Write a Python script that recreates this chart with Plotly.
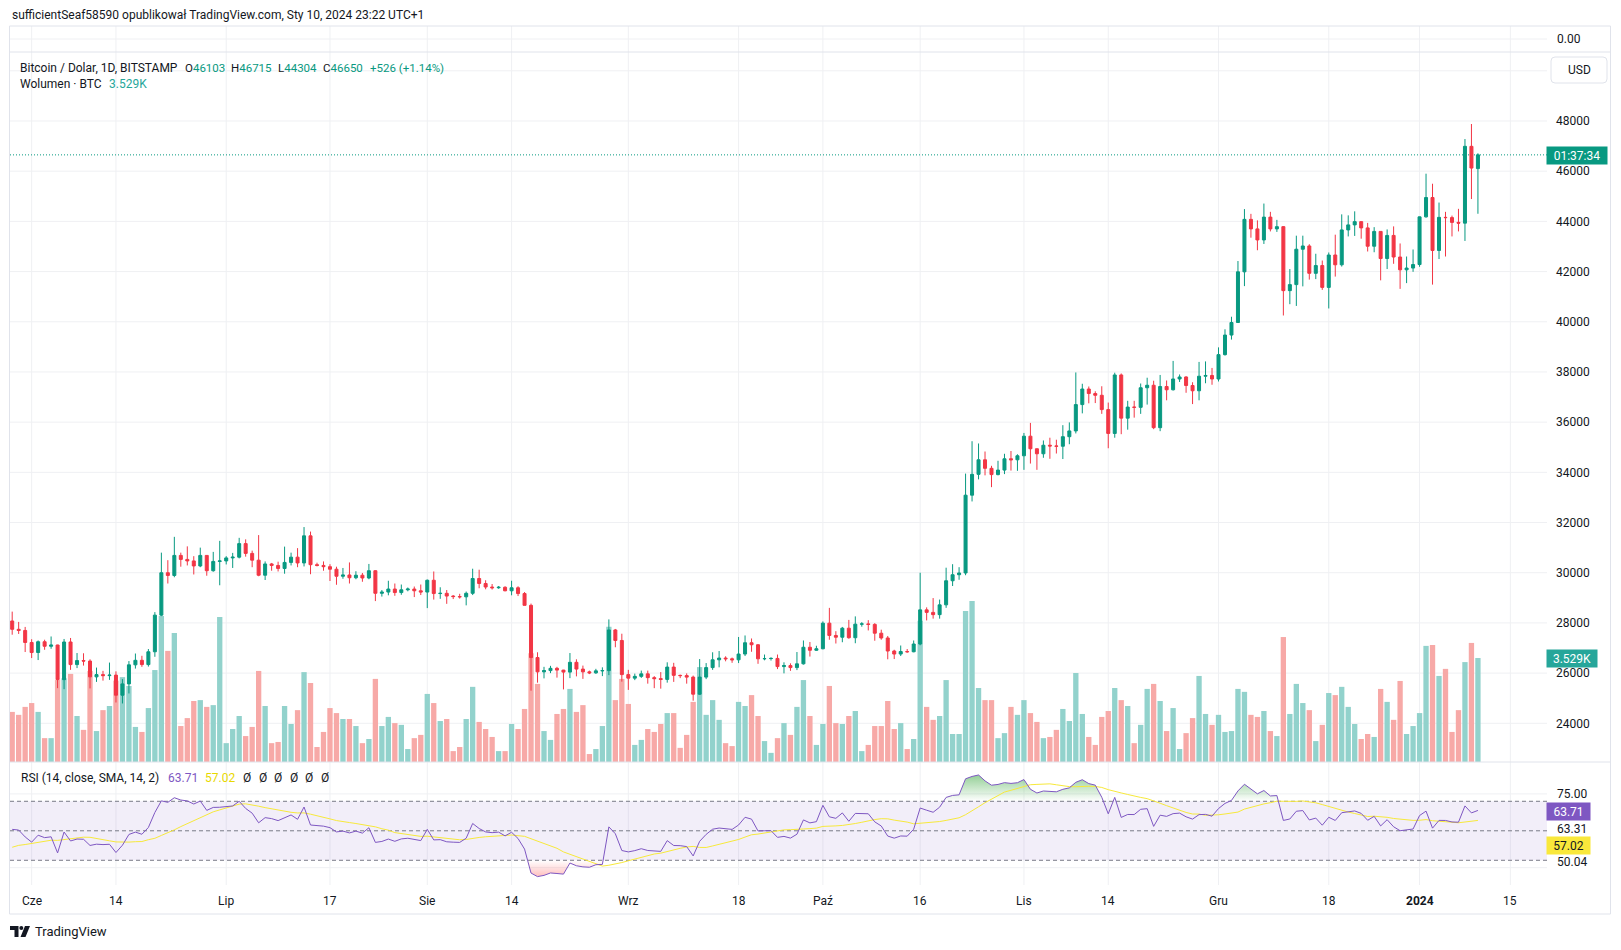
import plotly.graph_objects as go
import pandas as pd
import numpy as np

W, H = 1621, 950
FONT = "Roboto, 'Liberation Sans', sans-serif"
TXT = "#131722"
UP, DOWN = "#089981", "#F23645"
VOL_UP, VOL_DOWN = "#92d2cc", "#f7a9a7"
GRID = "#eff0f3"
BORDER = "#e0e3eb"

# ---------------- data (BITSTAMP BTC/USD, 1D) ----------------
start_date = "2023-05-29"

opens = [
    28077, 27745, 27700,
    27220, 26820, 27250, 27070, 27120, 25740, 27240, 26340, 26500, 26480, 25850, 25940, 25900, 25920, 25120,
    25570, 26330, 26510, 26340, 26850, 28310, 30000, 29890, 30690, 30530, 30470, 30270, 30690, 30080, 30450,
    30470, 30590, 30620, 31160, 30770, 30500, 29900, 30350, 30290, 30170, 30410, 30620, 30390, 31470, 30320,
    30290, 30240, 30140, 29860, 29910, 29800, 29900, 29790, 30080, 29180, 29230, 29350, 29210, 29320, 29350, 29280,
    29230, 29700, 29170, 29180, 29070, 29050, 29040, 29180, 29770, 29570, 29430, 29400, 29420, 29280, 29400,
    29170, 28700, 26620, 26050, 26100, 26190, 26120, 26040, 26430, 26160, 26050, 26010, 26090, 26100, 27720, 27300,
    25940, 25800, 25870, 25970, 25820, 25780, 25750, 26240, 25910, 25900, 25840, 25160, 25840, 26220, 26530,
    26600, 26570, 26530, 26760, 27210, 27130, 26570, 26580, 26585, 26260, 26300, 26220, 26370, 27030, 26910,
    26970, 27990, 27500, 27430, 27790, 27410, 27950, 27960, 27940, 27590, 27400, 26880, 26760, 26860, 26850,
    27160, 28520, 28420, 28330, 28720, 29680, 29920, 29990, 33090, 33920, 34500, 34160, 33910, 34090, 34540, 34500,
    34660, 35440, 34940, 34740, 35080, 35050, 35040, 35420, 35650, 36700, 37320, 37140, 37070, 36500, 35550,
    37880, 36160, 36600, 36590, 37370, 37470, 35780, 37420, 37290, 37720, 37800, 37460, 37250, 37830, 37860,
    37720, 38690, 39470, 39970, 41990, 44080, 43700, 43260, 44170, 43700, 43790, 41240, 41480, 42890, 43020,
    41930, 42240, 41370, 42660, 42270, 43660, 43860, 43990, 43740, 43010, 43600, 42520, 43440, 42580, 42070, 42140,
    42280, 44180, 44950, 42840, 44160, 44150, 43960, 43930, 46990, 46103,
]
highs = [
    28450, 28040, 27840,
    27350, 27300, 27330, 27460, 27130, 27360, 27400, 26800, 26790, 26550, 26220, 26090, 26420, 26070, 25760,
    26480, 26780, 26690, 26960, 28430, 30800, 30500, 31430, 30800, 31050, 30660, 31000, 30700, 30830, 31270,
    30660, 30790, 31390, 31330, 30880, 31500, 30450, 30390, 30440, 31040, 30800, 30980, 31820, 31640, 30400,
    30450, 30340, 30240, 30190, 30410, 30060, 29990, 30350, 30100, 29310, 29680, 29570, 29530, 29410, 29450, 29530,
    29730, 30050, 29420, 29310, 29110, 29160, 29250, 30160, 30120, 29700, 29550, 29470, 29460, 29680, 29460,
    29230, 28770, 26830, 26250, 26290, 26250, 26130, 26800, 26550, 26300, 26100, 26170, 26230, 28140, 27760, 27570,
    26130, 25980, 26100, 26100, 25880, 26040, 26430, 26410, 25940, 25990, 25900, 26560, 26400, 26830, 26880,
    26670, 26620, 27440, 27500, 27380, 27160, 26740, 26630, 26740, 26430, 26390, 26840, 27300, 27240, 27090,
    28060, 28600, 27670, 27840, 28120, 28260, 28030, 28110, 27990, 27730, 27480, 26930, 27100, 26960, 27300,
    30000, 28620, 28990, 28930, 30200, 30340, 30220, 33950, 35240, 35150, 34830, 34260, 34460, 34740, 34850, 34720,
    35570, 35970, 34950, 35270, 35380, 35300, 35880, 35990, 37980, 37530, 37420, 37230, 37430, 36780, 37970,
    37940, 36850, 36850, 37540, 37770, 37650, 37880, 37660, 38440, 37900, 37830, 37590, 38400, 38420, 38160,
    38980, 39700, 40200, 42420, 44490, 44300, 44040, 44710, 44380, 44060, 43810, 42100, 43430, 43430, 43090,
    42710, 42440, 42760, 43470, 44280, 44240, 44400, 44000, 43940, 43770, 43600, 43680, 43800, 43120, 42600, 42880,
    44190, 45900, 45500, 44750, 44380, 44230, 44500, 47280, 47880, 46715,
]
lows = [
    27530, 27560, 26840,
    26600, 26520, 26930, 26970, 25400, 25360, 26130, 26200, 26300, 25390, 25650, 25700, 25730, 24830, 24790,
    25190, 26180, 26250, 26260, 26650, 28270, 29570, 29820, 30240, 30290, 29930, 30220, 29880, 30040, 29500,
    30330, 30190, 30570, 30640, 30220, 29860, 29710, 30080, 30050, 29960, 30290, 30220, 30250, 29940, 30250,
    30080, 29670, 29520, 29760, 29570, 29740, 29640, 29740, 28870, 29050, 29100, 29080, 29120, 29260, 29030, 29110,
    28590, 28930, 28960, 28760, 28950, 28970, 28700, 29110, 29380, 29340, 29330, 29360, 29260, 29100, 29070,
    28700, 25300, 25620, 25790, 26000, 25820, 25350, 25800, 25870, 25770, 25960, 25970, 25880, 25920, 27030, 25660,
    25330, 25720, 25810, 25580, 25400, 25380, 25620, 25650, 25800, 25580, 24900, 25130, 25760, 26130, 26230,
    26470, 26410, 26400, 26680, 26850, 26370, 26510, 26500, 26160, 25990, 26090, 26120, 26340, 26660, 26890,
    26950, 27330, 27180, 27230, 27370, 27190, 27850, 27700, 27290, 27330, 26550, 26560, 26680, 26810, 26830,
    27110, 28100, 28170, 28170, 28600, 29470, 29720, 29900, 32840, 33720, 33880, 33410, 33880, 33930, 34070, 34060,
    34100, 34350, 34100, 34580, 34540, 34750, 34530, 35120, 35550, 36350, 36750, 36760, 36330, 34960, 35380,
    35520, 35700, 36180, 36330, 36700, 35720, 35640, 36870, 37260, 37600, 37170, 36720, 36870, 37550, 37490,
    37620, 38650, 39290, 39970, 41420, 43350, 42850, 43100, 43600, 43580, 40250, 40700, 40630, 41410, 41680,
    41700, 41270, 40530, 41800, 42200, 43400, 43420, 43310, 42800, 42770, 41650, 42100, 42310, 41310, 41540, 41990,
    42190, 44150, 41480, 42500, 42600, 43400, 43600, 43220, 44890, 44304,
]
closes = [
    27745, 27700, 27220,
    26820, 27250, 27070, 27120, 25740, 27240, 26340, 26500, 26480, 25850, 25940, 25900, 25920, 25120, 25570,
    26330, 26510, 26340, 26850, 28310, 30000, 29890, 30690, 30530, 30470, 30270, 30690, 30080, 30450, 30470,
    30590, 30620, 31160, 30770, 30500, 29900, 30350, 30290, 30170, 30410, 30620, 30390, 31470, 30320, 30290,
    30240, 30140, 29860, 29910, 29800, 29900, 29790, 30080, 29180, 29230, 29350, 29210, 29320, 29350, 29280, 29230,
    29700, 29170, 29180, 29070, 29050, 29040, 29180, 29770, 29570, 29430, 29400, 29420, 29280, 29400, 29170,
    28700, 26620, 26050, 26100, 26190, 26120, 26040, 26430, 26160, 26050, 26010, 26090, 26100, 27720, 27300, 25940,
    25800, 25870, 25970, 25820, 25780, 25750, 26240, 25910, 25900, 25840, 25160, 25840, 26220, 26530, 26600,
    26570, 26530, 26760, 27210, 27130, 26570, 26580, 26585, 26260, 26300, 26220, 26370, 27030, 26910, 26970,
    27990, 27500, 27430, 27790, 27410, 27950, 27960, 27940, 27590, 27400, 26880, 26760, 26860, 26850, 27160,
    28520, 28420, 28330, 28720, 29680, 29920, 29990, 33090, 33920, 34500, 34160, 33910, 34090, 34540, 34500, 34660,
    35440, 34940, 34740, 35080, 35050, 35040, 35420, 35650, 36700, 37320, 37140, 37070, 36500, 35550, 37880,
    36160, 36600, 36590, 37370, 37470, 35780, 37420, 37290, 37720, 37800, 37460, 37250, 37830, 37860, 37720,
    38690, 39470, 39970, 41990, 44080, 43700, 43260, 44170, 43700, 43790, 41240, 41480, 42890, 43020, 41930,
    42240, 41370, 42660, 42270, 43660, 43860, 43990, 43740, 43010, 43600, 42520, 43440, 42580, 42070, 42140, 42280,
    44180, 44950, 42840, 44160, 44150, 43960, 43930, 46990, 46124, 46650,
]
# volume in thousands of BTC
volume_k = [
    1.70, 1.60, 1.87,
    2.00, 1.70, 0.81, 0.81, 2.78, 2.84, 2.99, 1.56, 1.09, 3.09, 1.05, 1.76, 1.90, 2.76, 2.88, 2.58, 1.19, 1.02,
    1.83, 3.12, 4.95, 3.77, 4.38, 1.22, 1.49, 2.07, 2.10, 1.87, 1.93, 4.92,
    0.64, 1.12, 1.56, 0.88, 1.19, 3.09, 1.90, 0.64, 0.68, 1.90, 1.29, 1.76, 3.05, 2.68, 0.51, 1.02, 1.83, 1.66,
    1.46, 1.46, 1.22, 0.64, 0.78, 2.82, 1.22, 1.53, 1.32, 1.26, 0.44, 0.81, 0.92,
    2.31, 2.00, 1.39, 1.46, 0.37, 0.51, 1.46, 2.55, 1.36, 1.12, 0.85, 0.37, 0.37, 1.29, 1.12, 1.80, 3.69, 2.65,
    1.05, 0.75, 1.63, 1.80, 2.48, 1.70, 1.93, 0.27, 0.44, 1.22, 4.59, 2.10, 2.82,
    1.97, 0.58, 0.75, 1.12, 1.02, 1.29, 1.66, 1.66, 0.48, 0.92, 2.04, 3.22, 1.60, 2.10, 1.43, 0.64, 0.54, 2.04,
    1.90, 2.27, 1.56, 0.71, 0.31, 0.81, 1.32, 0.92, 1.87, 2.78, 1.56, 0.58,
    1.29, 2.58, 1.32, 1.29, 1.56, 1.73, 0.37, 0.58, 1.22, 1.22, 2.07, 1.12, 1.32, 0.44, 0.78, 4.79, 1.87, 1.43,
    1.56, 2.78, 0.95, 0.95, 5.12, 5.46, 2.51, 2.10, 2.10, 0.81, 0.98, 1.87, 1.60,
    2.10, 1.66, 1.36, 0.81, 0.85, 1.09, 1.80, 1.39, 3.02, 1.63, 0.85, 0.58, 1.53, 1.73, 2.51, 2.10, 1.90, 0.64,
    1.26, 2.48, 2.65, 2.07, 1.05, 1.83, 0.44, 0.98, 1.49, 2.92, 1.63, 1.26,
    1.60, 1.02, 1.05, 2.48, 2.38, 1.60, 1.53, 1.73, 1.05, 0.88, 4.24, 1.63, 2.65, 2.00, 1.76, 0.71, 1.26, 2.34,
    2.27, 2.55, 1.87, 1.29, 0.78, 0.95, 0.85, 2.48, 2.04, 1.43, 2.75, 0.95, 1.22,
    1.66, 3.94, 3.97, 2.92, 3.16, 1.02, 1.76, 3.39, 4.04, 3.529,
]
# closes before the visible window (Apr 28 - May 28, 2023), used only to warm up the RSI
warmup_closes = [
    29330, 29240, 29250, 28070, 28670, 29030, 28840, 29530, 28900, 28430, 27680, 27630, 27620, 26990, 26800,
    26780, 26920, 27170, 27030, 27400, 26830, 26890, 27110, 26750, 26850, 27220, 26330, 26480, 26720, 26860, 28080,
]
# indicator read-outs as printed on the chart
rsi_readout = 63.71
rsi_ma_readout = 57.02

tick_dates = ["2023-06-01", "2023-06-14", "2023-07-01", "2023-07-17", "2023-08-01", "2023-08-14",
              "2023-09-01", "2023-09-18", "2023-10-01", "2023-10-16", "2023-11-01", "2023-11-14",
              "2023-12-01", "2023-12-18", "2024-01-01", "2024-01-15"]
tick_labels = ["Cze", "14", "Lip", "17", "Sie", "14", "Wrz", "18", "Paź", "16", "Lis", "14",
               "Gru", "18", "<b>2024</b>", "15"]
price_ticks = list(range(24000, 48001, 2000))

n = len(closes)
assert len(opens) == len(highs) == len(lows) == len(volume_k) == n
dates = pd.date_range(start_date, periods=n, freq="D")

# ---------------- RSI (14, RMA) + SMA(14) of RSI ----------------
allc = np.array(warmup_closes + closes, dtype=float)
d = np.diff(allc)
g = np.maximum(d, 0)
l = np.maximum(-d, 0)
ag = np.full(len(allc), np.nan)
al = np.full(len(allc), np.nan)
ag[14] = g[:14].mean()
al[14] = l[:14].mean()
for k in range(15, len(allc)):
    ag[k] = (ag[k - 1] * 13 + g[k - 1]) / 14
    al[k] = (al[k - 1] * 13 + l[k - 1]) / 14
rsi_all = 100 - 100 / (1 + ag / al)
rsi_ma_all = pd.Series(rsi_all).rolling(14).mean().to_numpy()
rsi = rsi_all[-n:]
rsi_ma = rsi_ma_all[-n:]

# ---------------- geometry helpers ----------------
def fx(px):
    return px / W


def fy(py):
    return 1 - py / H


PL, PR = 10, 1547
MAIN_T, MAIN_B = 52, 762
RSI_T, RSI_B = 762, 885
x_range = [pd.Timestamp(start_date) - pd.Timedelta(hours=8.1), pd.Timestamp("2024-01-20 15:36")]
price_range = [22458, 50749]
vol_range = [0, 24.09]
rsi_range = [13.25, 96.64]

fig = go.Figure()

# volume (base axis, drawn under candles)
vcols = [VOL_UP if c >= o else VOL_DOWN for o, c in zip(opens, closes)]
fig.add_trace(go.Bar(x=dates, y=volume_k, marker=dict(color=vcols, line=dict(width=0)),
                     width=0.82 * 86400000, xaxis="x", yaxis="y", hoverinfo="skip"))

# candles
fig.add_trace(go.Candlestick(
    x=dates, open=opens, high=highs, low=lows, close=closes, xaxis="x", yaxis="y2",
    increasing=dict(line=dict(color=UP, width=1), fillcolor=UP),
    decreasing=dict(line=dict(color=DOWN, width=1), fillcolor=DOWN),
    whiskerwidth=0, hoverinfo="skip"))

# RSI fills (overbought / oversold gradients)
xs_ms = np.array([t.value / 1e6 for t in dates])


def clipped(level, above):
    ox, oy = [], []
    for k in range(n):
        if k > 0:
            v0, v1 = rsi[k - 1], rsi[k]
            if (v0 - level) * (v1 - level) < 0:
                t = (level - v0) / (v1 - v0)
                ox.append(xs_ms[k - 1] + t * (xs_ms[k] - xs_ms[k - 1]))
                oy.append(level)
        ox.append(xs_ms[k])
        oy.append(max(rsi[k], level) if above else min(rsi[k], level))
    return pd.to_datetime(np.array(ox), unit="ms"), oy


for level, above, cs, st, sp in [
    (70, True, [[0, "rgba(76,175,80,0)"], [1, "rgba(76,175,80,1)"]], 70, 100),
    (30, False, [[0, "rgba(255,82,82,1)"], [1, "rgba(255,82,82,0)"]], 0, 30),
]:
    cx, cy = clipped(level, above)
    fig.add_trace(go.Scatter(x=cx, y=[level] * len(cy), mode="lines", line=dict(width=0),
                             xaxis="x", yaxis="y3", hoverinfo="skip", showlegend=False))
    fig.add_trace(go.Scatter(x=cx, y=cy, mode="lines", line=dict(width=0), fill="tonexty",
                             fillgradient=dict(type="vertical", colorscale=cs, start=st, stop=sp),
                             xaxis="x", yaxis="y3", hoverinfo="skip", showlegend=False))

fig.add_trace(go.Scatter(x=dates, y=rsi_ma, mode="lines", line=dict(color="#F7E93B", width=1),
                         xaxis="x", yaxis="y3", hoverinfo="skip"))
fig.add_trace(go.Scatter(x=dates, y=rsi, mode="lines", line=dict(color="#7E57C2", width=1),
                         xaxis="x", yaxis="y3", hoverinfo="skip"))

# ---------------- shapes ----------------
shapes = []


def hline_px(py, x0=PL, x1=PR, color=GRID, layer="below", width=1, dash=None):
    shapes.append(dict(type="line", xref="paper", yref="paper", x0=fx(x0), x1=fx(x1),
                       y0=fy(py), y1=fy(py), layer=layer,
                       line=dict(color=color, width=width, dash=dash)))


for v in list(range(24000, 50001, 2000)):
    shapes.append(dict(type="line", xref="paper", yref="y2", x0=fx(PL), x1=fx(PR), y0=v, y1=v,
                       layer="below", line=dict(color=GRID, width=1)))
hline_px(39)  # mini pane grid
for v in (75, 25):
    shapes.append(dict(type="line", xref="paper", yref="y3", x0=fx(PL), x1=fx(PR), y0=v, y1=v,
                       layer="below", line=dict(color=GRID, width=1)))
for td in tick_dates:
    shapes.append(dict(type="line", xref="x", yref="paper", x0=td, x1=td, y0=fy(RSI_B), y1=fy(26),
                       layer="below", line=dict(color=GRID, width=1)))
# RSI band
shapes.append(dict(type="rect", xref="paper", yref="y3", x0=fx(PL), x1=fx(PR), y0=30, y1=70,
                   layer="below", line=dict(width=0), fillcolor="rgba(126,87,194,0.1)"))
for v in (70, 50, 30):
    shapes.append(dict(type="line", xref="paper", yref="y3", x0=fx(PL), x1=fx(PR), y0=v, y1=v,
                       layer="below", line=dict(color="#787B86", width=1, dash="4px,3px")))
# last price dotted line
shapes.append(dict(type="line", xref="paper", yref="y2", x0=fx(PL), x1=fx(PR), y0=closes[-1], y1=closes[-1],
                   layer="below", line=dict(color=UP, width=1, dash="1px,2px")))
# frame and pane separators
shapes.append(dict(type="rect", xref="paper", yref="paper", x0=fx(9.5), x1=fx(1610.5), y0=fy(914), y1=fy(26),
                   layer="above", line=dict(color=BORDER, width=1), fillcolor="rgba(0,0,0,0)"))
hline_px(MAIN_T, 9.5, 1610.5, BORDER, "above")
hline_px(MAIN_B, 9.5, 1610.5, BORDER, "above")


def ppath(pts, close=True):
    s = "M" + " L".join(f"{fx(a):.6f},{fy(b):.6f}" for a, b in pts)
    return s + (" Z" if close else "")


# USD button (rounded rectangle)
bx0, bx1, by0, by1, r = 1551, 1607, 57, 83, 4
usd_path = (f"M{fx(bx0 + r)},{fy(by0)} L{fx(bx1 - r)},{fy(by0)} Q{fx(bx1)},{fy(by0)} {fx(bx1)},{fy(by0 + r)} "
            f"L{fx(bx1)},{fy(by1 - r)} Q{fx(bx1)},{fy(by1)} {fx(bx1 - r)},{fy(by1)} "
            f"L{fx(bx0 + r)},{fy(by1)} Q{fx(bx0)},{fy(by1)} {fx(bx0)},{fy(by1 - r)} "
            f"L{fx(bx0)},{fy(by0 + r)} Q{fx(bx0)},{fy(by0)} {fx(bx0 + r)},{fy(by0)} Z")
shapes.append(dict(type="path", xref="paper", yref="paper", path=usd_path, layer="above",
                   line=dict(color=BORDER, width=1), fillcolor="white"))
# TradingView logo
shapes.append(dict(type="path", xref="paper", yref="paper", layer="above", line=dict(width=0), fillcolor=TXT,
                   path=ppath([(10, 926), (18.5, 926), (18.5, 937), (14.5, 937), (14.5, 930), (10, 930)])))
shapes.append(dict(type="circle", xref="paper", yref="paper", layer="above", line=dict(width=0), fillcolor=TXT,
                   x0=fx(19.3), x1=fx(23.3), y0=fy(930), y1=fy(926)))
shapes.append(dict(type="path", xref="paper", yref="paper", layer="above", line=dict(width=0), fillcolor=TXT,
                   path=ppath([(25, 926), (30, 926), (25.5, 937), (20.5, 937)])))

# ---------------- annotations ----------------
ann = []


def txt(x, y, s, color=TXT, size=12, anchor="left", bg=None, w=None, h=None, xref="paper"):
    a = dict(x=(fx(x) if xref == "paper" else x), y=fy(y), xref=xref, yref="paper", text=s, showarrow=False,
             xanchor=anchor, yanchor="middle", font=dict(family=FONT, size=size, color=color), borderpad=1)
    if bg:
        a["bgcolor"] = bg
    if w:
        a["width"] = w
    if h:
        a["height"] = h
    ann.append(a)


def span(s, color):
    return f"<span style='color:{color}'>{s}</span>"


txt(10, 15, "sufficientSeaf58590 opublikował TradingView.com, Sty 10, 2024 23:22 UTC+1")
# main legend
txt(18, 68, "Bitcoin / Dolar, 1D, BITSTAMP")
for lab, xl, val in [("O", 183, opens[-1]), ("H", 229, highs[-1]), ("L", 276, lows[-1]), ("C", 321, closes[-1])]:
    txt(xl, 68, lab + span(f"{val}", UP), size=11.5)
chg = closes[-1] - closes[-2]
txt(367.5, 68, f"+{chg:.0f} (+{chg / closes[-2] * 100:.2f}%)", color=UP, size=11.5)
txt(18, 84, "Wolumen · BTC")
txt(107, 84, f"{volume_k[-1]:.3f}K", color="#26a69a")
# RSI legend
txt(18.5, 778, "RSI (14, close, SMA, 14, 2)")
txt(166, 778, f"{rsi_readout:.2f}", color="#7E57C2")
txt(203, 778, f"{rsi_ma_readout:.2f}", color="#E8D800")
for k in range(6):
    txt(241 + 15.6 * k, 778, "Ø")
# right axis extras
txt(1555, 39, "0.00")
txt(1579, 70, "USD", anchor="center")
txt(1577, 155.5, "01:37:34", color="white", anchor="center", bg=UP, w=58, h=15)
txt(1572, 658.5, f"{volume_k[-1]:.3f}K", color="white", anchor="center", bg="#26a69a", w=48, h=15)
txt(1555, 794, "75.00")
txt(1568.5, 811.7, f"{rsi_readout:.2f}", color="white", anchor="center", bg="#7E57C2", w=41, h=15)
txt(1555, 829, "63.31")
txt(1568.5, 845.3, f"{rsi_ma_readout:.2f}", color=TXT, anchor="center", bg="#F9E83B", w=41, h=15)
txt(1555, 862, "50.04")
# time axis labels
for td, tl in zip(tick_dates, tick_labels):
    txt(td, 901, tl, anchor="center", xref="x")
# footer
txt(33, 931.5, "TradingView", size=13)

fig.update_layout(
    width=W, height=H, margin=dict(l=0, r=0, t=0, b=0),
    paper_bgcolor="white", plot_bgcolor="white", showlegend=False, boxgap=0.34,
    font=dict(family=FONT, size=12, color=TXT),
    xaxis=dict(domain=[fx(PL), fx(PR)], range=x_range, type="date", showgrid=False, zeroline=False,
               showticklabels=False, showline=False, ticks="", rangeslider=dict(visible=False), anchor="y"),
    yaxis=dict(domain=[fy(MAIN_B), fy(MAIN_T)], range=vol_range, visible=False, anchor="x"),
    yaxis2=dict(domain=[fy(MAIN_B), fy(MAIN_T)], range=price_range, overlaying="y", side="right", anchor="x",
                tickvals=price_ticks, ticktext=[str(v) for v in price_ticks], showgrid=False, zeroline=False,
                showline=False, ticks="", ticklabelstandoff=8, tickfont=dict(family=FONT, size=12, color=TXT)),
    yaxis3=dict(domain=[fy(RSI_B), fy(RSI_T)], range=rsi_range, visible=False, anchor="x"),
    shapes=shapes, annotations=ann,
)

fig.write_html("out.html", config={"displayModeBar": False},
               post_script="document.body.style.margin='0';document.body.style.overflow='hidden';")
